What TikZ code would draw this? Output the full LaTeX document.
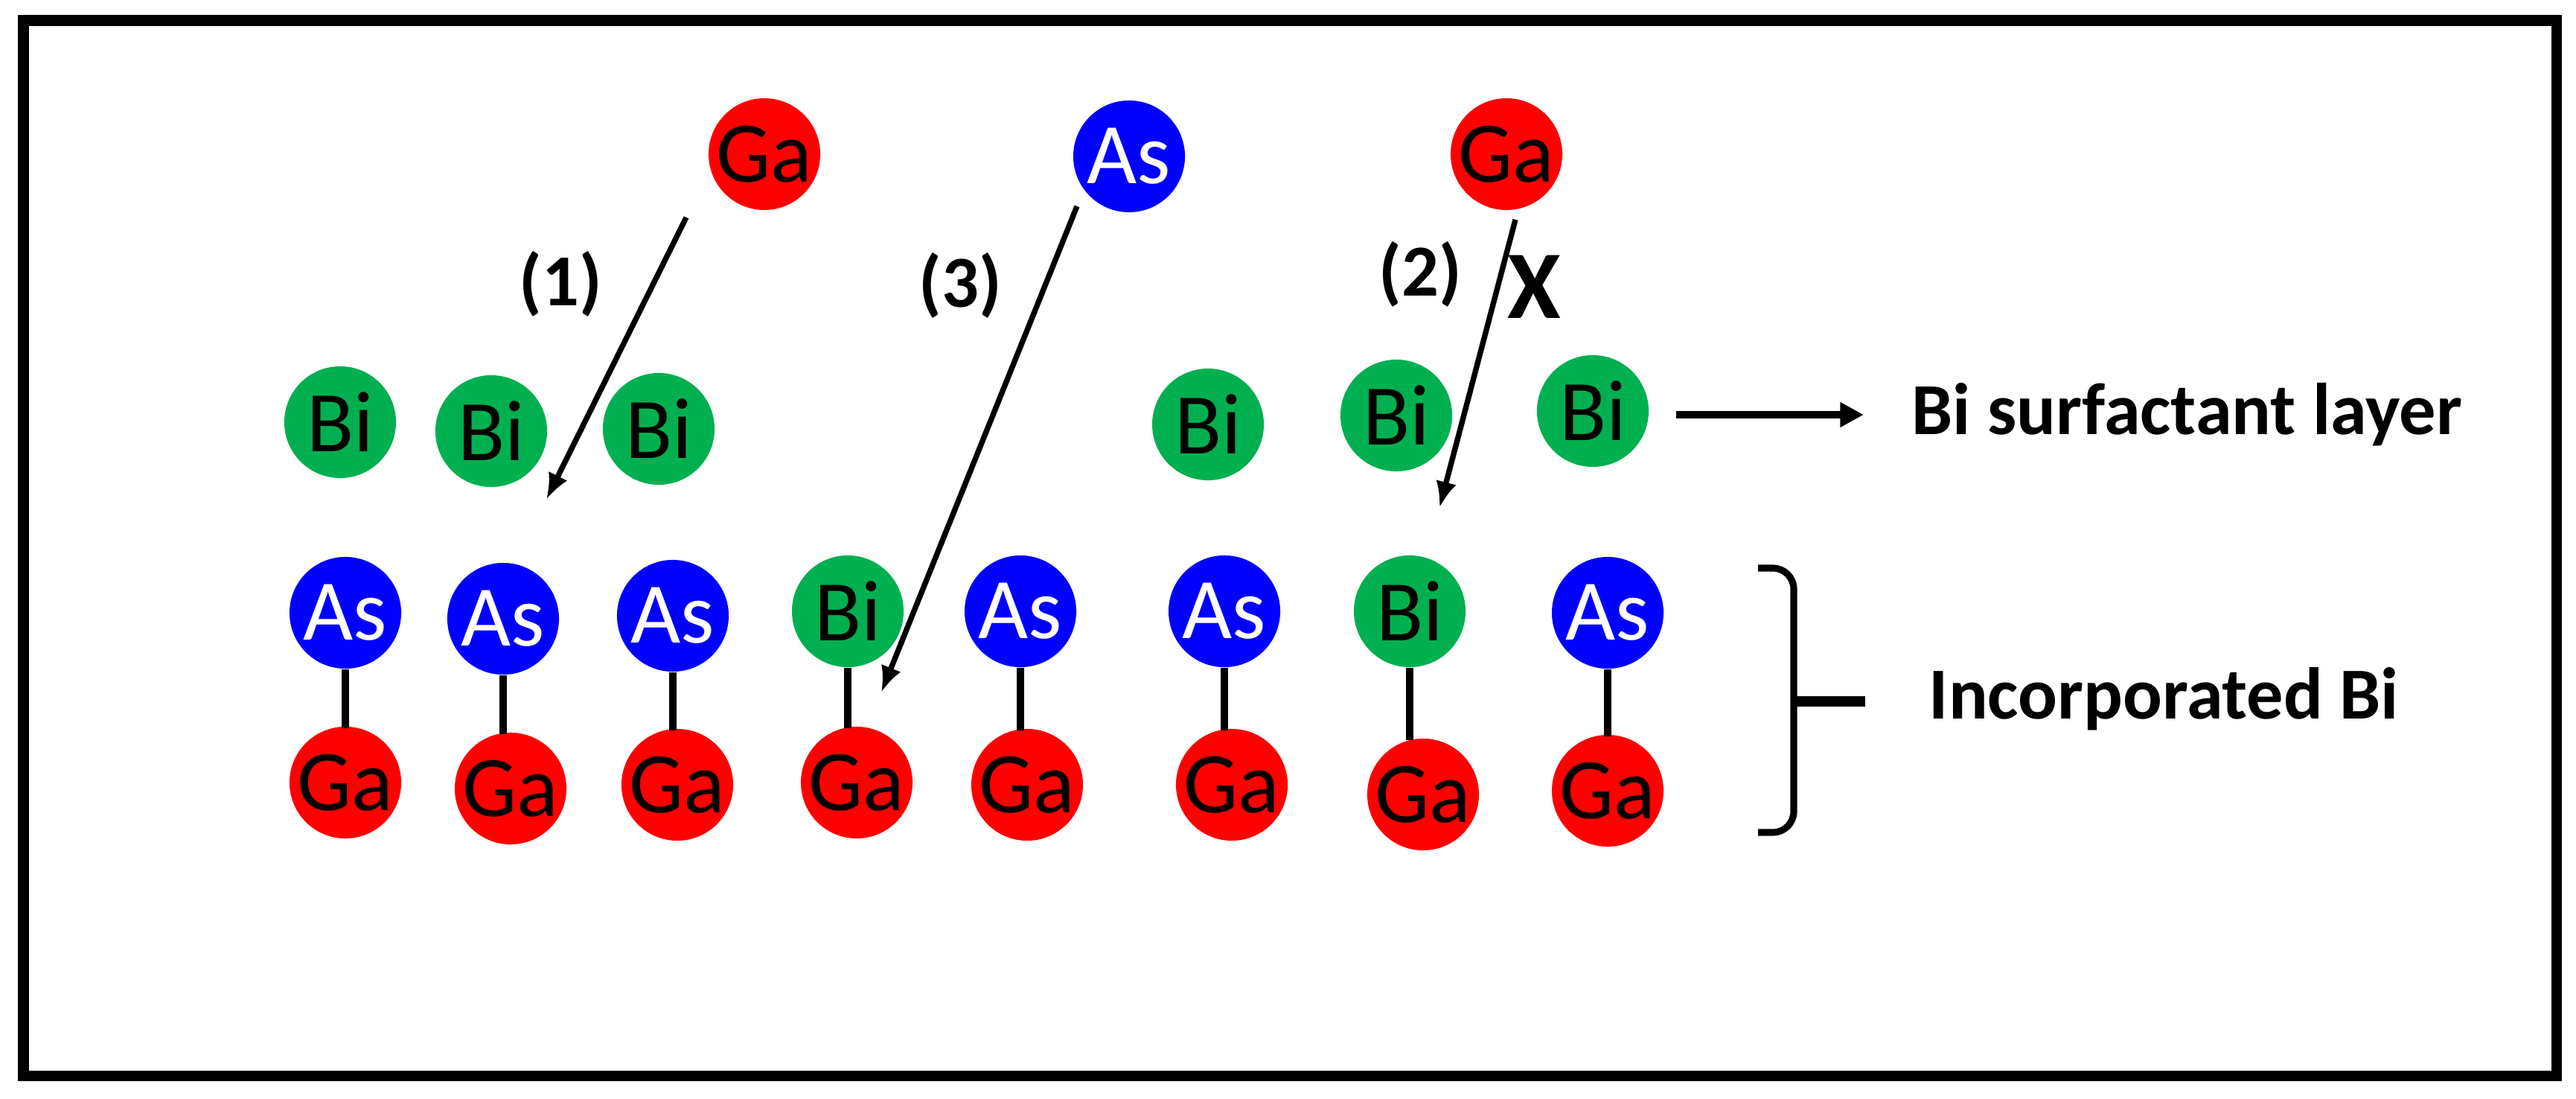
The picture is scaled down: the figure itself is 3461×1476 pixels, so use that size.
\documentclass[tikz,border=0pt]{standalone}
\usepackage{fontspec}
\setmainfont{Carlito}
\usetikzlibrary{arrows.meta}
\definecolor{gared}{RGB}{255,0,0}
\definecolor{asblue}{RGB}{0,0,255}
\definecolor{bigreen}{RGB}{0,176,80}
\begin{document}
\begin{tikzpicture}[x=0.01cm,y=-0.01cm,
  atom/.style={circle,minimum size=1.5cm,inner sep=0pt,font=\fontsize{33}{39}\selectfont},
  ga/.style={atom,fill=gared,text=black},
  as/.style={atom,fill=asblue,text=white},
  bi/.style={atom,fill=bigreen,text=black},
  bond/.style={line width=2.8pt},
  move/.style={line width=2.1pt,-{Latex[length=10pt,width=8pt]}},
  lbl/.style={font=\bfseries\fontsize{28}{34}\selectfont,inner sep=0pt},
  bigx/.style={font=\bfseries\fontsize{37}{44}\selectfont,inner sep=0pt},
  frame/.style={line width=4pt}]
\useasboundingbox (0,0) rectangle (3461,1476);
\draw[frame] (31.5,27.5) rectangle (3435,1445);

% incoming atoms
\node[ga] (tga1) at (1027,207) {Ga};
\node[as] (tas)  at (1517,210) {As};
\node[ga] (tga2) at (2024,207) {Ga};

% Bi surfactant layer
\node[bi] (s1) at (457,567) {Bi};
\node[bi] (s2) at (660,579) {Bi};
\node[bi] (s3) at (885,576) {Bi};
\node[bi] (s4) at (1623,570) {Bi};
\node[bi] (s5) at (1876,558) {Bi};
\node[bi] (s6) at (2140,552) {Bi};

% top row of lattice
\node[as] (a1) at (464,823) {As};
\node[as] (a2) at (676,831) {As};
\node[as] (a3) at (904,827) {As};
\node[bi] (a4) at (1139,821) {Bi};
\node[as] (a5) at (1371,821) {As};
\node[as] (a6) at (1645,821) {As};
\node[bi] (a7) at (1894,821) {Bi};
\node[as] (a8) at (2160,823) {As};

% bottom row of lattice
\node[ga] (g1) at (464,1051) {Ga};
\node[ga] (g2) at (686,1059) {Ga};
\node[ga] (g3) at (910,1054) {Ga};
\node[ga] (g4) at (1151,1051) {Ga};
\node[ga] (g5) at (1380,1054) {Ga};
\node[ga] (g6) at (1655,1054) {Ga};
\node[ga] (g7) at (1912,1067) {Ga};
\node[ga] (g8) at (2160,1062) {Ga};

\foreach \i in {1,...,8} \draw[bond] (a\i.south) -- ([yshift=-0.03cm]a\i.south |- g\i.north);

% process arrows
\coordinate (p1s) at (922,292);
\coordinate (p1e) at (734,671);
\coordinate (p3s) at (1447,277);
\coordinate (p3e) at (1184,930);
\coordinate (p2s) at (2036,295);
\coordinate (p2e) at (1934,682);
\draw[move] (p1s) -- (p1e);
\draw[move] (p3s) -- (p3e);
\draw[move] (p2s) -- (p2e);

\node[lbl] (l1) at (753,381) {(1)};
\node[lbl] (l3) at (1290,383) {(3)};
\node[lbl] (l2) at (1908,368) {(2)};
\node[bigx] (x2) at (2061,385) {X};

% labels on the right
\node[lbl,anchor=base west] (surf) at (2568,583) {Bi surfactant layer};
\coordinate (sa) at (2252,557);
\coordinate (sb) at (2504,557);
\draw[line width=3pt,-{Triangle[length=9pt,width=9pt]}] (sa) -- (sb);

\node[lbl,anchor=base west] (inc) at (2591,965) {Incorporated Bi};
\coordinate (bt) at (2362,763);
\coordinate (bb) at (2362,1118);
\coordinate (bm) at (2410,942);
\coordinate (bme) at (2506,942);
\draw[line width=2.6pt,rounded corners=8pt] (bt) -- (2410,763) -- (2410,1118) -- (bb);
\draw[line width=3.8pt] (bm) -- (bme);
\end{tikzpicture}
\end{document}
